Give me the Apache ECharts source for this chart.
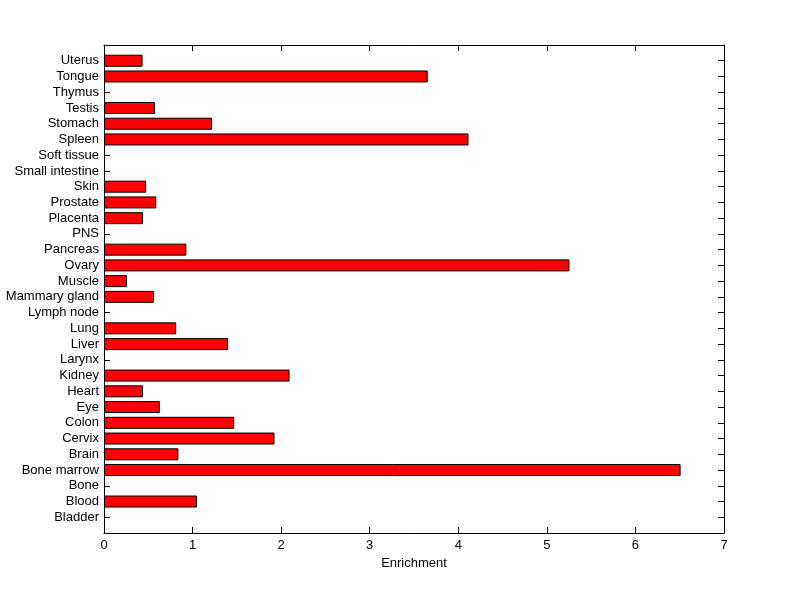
<!DOCTYPE html>
<html>
<head>
<meta charset="utf-8">
<script src="https://cdn.jsdelivr.net/npm/echarts@6/dist/echarts.min.js"></script>
<style>html,body{margin:0;padding:0;background:#fff}#c{width:800px;height:599px}</style>
</head>
<body>
<div id="c"></div>
<script>
const categories = ['Bladder','Blood','Bone','Bone marrow','Brain','Cervix','Colon','Eye','Heart','Kidney','Larynx','Liver','Lung','Lymph node','Mammary gland','Muscle','Ovary','Pancreas','PNS','Placenta','Prostate','Skin','Small intestine','Soft tissue','Spleen','Stomach','Testis','Thymus','Tongue','Uterus'];
const enrichment = [0, 1.05, 0, 6.51, 0.84, 1.925, 1.47, 0.63, 0.44, 2.095, 0, 1.40, 0.815, 0, 0.565, 0.26, 5.255, 0.93, 0, 0.44, 0.59, 0.475, 0, 0, 4.115, 1.22, 0.575, 0, 3.655, 0.435];
const xTicks = [0, 1, 2, 3, 4, 5, 6, 7];
const xLabel = 'Enrichment';

// pad with empty slots so the axis spans 0..31 like the original
const yCats = [''].concat(categories, ['']);
// zero-length bars draw nothing visible; skip them so the axis ticks stay clear
const yData = [null].concat(enrichment.map(v => v === 0 ? null : v), [null]);

const font = 'Liberation Sans, Arial, sans-serif';
function tick() { return {show: true, inside: true, length: 6, lineStyle: {color: '#000', width: 1}}; }
function line() { return {show: true, onZero: false, lineStyle: {color: '#000', width: 1}}; }
const chart = echarts.init(document.getElementById('c'), null, {renderer: 'canvas'});
chart.setOption({
  animation: false,
  backgroundColor: '#fff',
  grid: {left: 104, right: 76, top: 45, bottom: 66, show: false},
  xAxis: [{
    type: 'value', min: xTicks[0], max: xTicks[xTicks.length - 1], interval: 1,
    position: 'bottom',
    name: xLabel, nameLocation: 'middle', nameGap: 24,
    nameTextStyle: {color: '#000', fontSize: 13, fontFamily: font},
    axisLine: line(),
    axisTick: tick(),
    axisLabel: {color: '#000', fontSize: 13, fontFamily: font, margin: 6},
    splitLine: {show: false}
  }, {
    type: 'value', min: xTicks[0], max: xTicks[xTicks.length - 1], interval: 1,
    position: 'top',
    axisLine: line(),
    axisTick: tick(),
    axisLabel: {show: false},
    splitLine: {show: false}
  }],
  yAxis: [{
    type: 'category', data: yCats, boundaryGap: false, position: 'left',
    axisLine: line(),
    axisTick: tick(),
    axisLabel: {color: '#000', fontSize: 13, fontFamily: font, margin: 5, interval: 0},
    splitLine: {show: false}
  }, {
    type: 'category', data: yCats, boundaryGap: false, position: 'right',
    axisLine: line(),
    axisTick: tick(),
    axisLabel: {show: false},
    splitLine: {show: false}
  }],
  series: [{
    type: 'bar', xAxisIndex: 0, yAxisIndex: 0,
    data: yData,
    barWidth: 12,
    itemStyle: {color: '#ff0000', borderColor: '#000', borderWidth: 1},
    z: 3
  }]
});
</script>
</body>
</html>
